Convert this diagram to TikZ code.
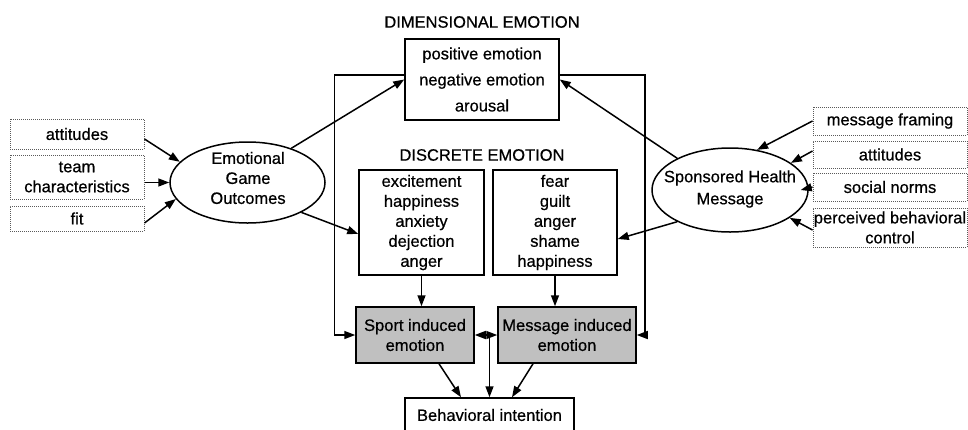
\documentclass[tikz,border=0pt]{standalone}
\usepackage{fontspec}
\setmainfont{Liberation Sans}[FakeBold=0.6]
\usetikzlibrary{shapes.geometric,arrows.meta}
\definecolor{boxgray}{RGB}{192,192,192}
\definecolor{dotgray}{RGB}{90,90,90}
\begin{document}
\begin{tikzpicture}[x=1pt,y=-1pt,
  >={Triangle[length=11pt,width=8pt]},
  txt/.style={font=\fontsize{16.5}{20}\selectfont, align=center, inner sep=0pt},
  box/.style={txt, draw, line width=1.5pt, rectangle},
  dbox/.style={txt, draw=dotgray, densely dotted, line width=1pt},
  ell/.style={draw, ellipse, line width=1.5pt, inner sep=0pt},
  arr/.style={line width=1.5pt, ->},
  darr/.style={line width=1.5pt, <->}]
\clip (0,0) rectangle (968,429);

% titles
\node[txt] (t1) at (482,22) {DIMENSIONAL EMOTION};
\node[txt] (t2) at (482,155) {DISCRETE EMOTION};

% central boxes
\node[box, minimum width=154pt, minimum height=81pt, font=\fontsize{16.5}{26}\selectfont] (dim) at (482,79.5) {positive emotion\\negative emotion\\arousal};
\node[box, minimum width=125pt, minimum height=105pt] (dL) at (421.5,222.5) {excitement\\happiness\\anxiety\\dejection\\anger};
\node[box, minimum width=124pt, minimum height=105pt] (dR) at (555,222.5) {fear\\guilt\\anger\\shame\\happiness};
\node[box, fill=boxgray, minimum width=118pt, minimum height=56pt] (sp) at (415,335) {Sport induced\\emotion};
\node[box, fill=boxgray, minimum width=138pt, minimum height=56pt] (ms) at (567,335) {Message induced\\emotion};
\node[box, minimum width=169pt, minimum height=34pt] (bi) at (489.5,415) {Behavioral intention};

% left dotted boxes
\node[dbox, minimum width=134pt, minimum height=30pt] (la) at (77,134) {attitudes};
\node[dbox, minimum width=134pt, minimum height=44pt] (lt) at (77,177) {team\\characteristics};
\node[dbox, minimum width=134pt, minimum height=25pt] (lf) at (77,218.5) {fit};

% right dotted boxes
\node[dbox, minimum width=154pt, minimum height=28pt] (rm) at (890,121) {message framing};
\node[dbox, minimum width=154pt, minimum height=27pt] (ra) at (890,154.5) {attitudes};
\node[dbox, minimum width=154pt, minimum height=28pt] (rs) at (890,187) {social norms};
\node[dbox, minimum width=154pt, minimum height=39pt] (rp) at (890,227.5) {perceived behavioral\\control};

% ellipses
\node[ell, minimum width=155pt, minimum height=81pt] (E) at (247.5,182.5) {};
\node[txt] (Et) at (248,178) {Emotional\\Game\\Outcomes};
\node[ell, minimum width=156pt, minimum height=84pt] (S) at (730,190) {};
\node[txt, font=\fontsize{16.5}{22}\selectfont] (St) at (730,189) {Sponsored Health\\Message};

% connectors left
\draw[arr] ([yshift=-5pt]la.east) -- (E.163);
\draw[arr] ([yshift=-5.5pt]lt.east) -- (E.west);
\draw[arr] ([yshift=-4.5pt]lf.east) -- (E.193);
\draw[arr] (E.38) -- (dim.west);
\draw[arr] (E.331) -- ([yshift=-11.5pt]dL.west);

% connectors right
\draw[arr] (S.149) -- (dim.east);
\draw[arr] (S.211) -- ([yshift=-16.5pt]dR.east);
\draw[arr] (rm.west) -- (S.56);
\draw[arr] ([yshift=3.5pt]ra.west) -- (S.24);
\draw[arr] (rs.west) -- ([xshift=-8pt]S.east);
\draw[arr] ([yshift=-2.5pt]rp.west) -- (S.335);

% lower part
\draw[arr] (dL.south) -- (dL.south |- sp.north);
\draw[arr] (dR.south) -- (dR.south |- ms.north);
\draw[arr] ([yshift=4.5pt]dim.west) -- ++(-70,0) |- (sp.west);
\draw[arr] ([yshift=4.5pt]dim.east) -- ++(85,0) |- (ms.east);
\draw[darr] (sp.east) -- (ms.west);
\draw[arr] (bi.north |- sp.east) -- (bi.north);
\draw[arr] ([xshift=24pt]sp.south) -- ([xshift=-28.5pt]bi.north);
\draw[arr] ([xshift=-34pt]ms.south) -- ([xshift=22.5pt]bi.north);
\end{tikzpicture}
\end{document}
